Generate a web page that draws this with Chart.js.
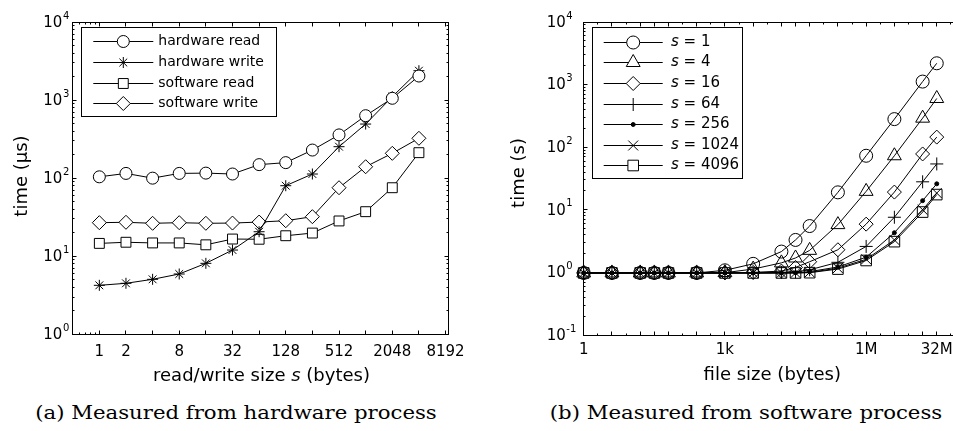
<!DOCTYPE html>
<html>
<head>
<meta charset="utf-8">
<script src="https://cdn.jsdelivr.net/npm/chart.js"></script>
<style>
  html, body { margin: 0; padding: 0; background: #fff; overflow: hidden; }
  #page { position: relative; width: 953px; height: 431px; overflow: hidden; background: #fff; }
  .panel { position: absolute; top: 0; }
  .cap { position: absolute; top: 403px; width: 476px; line-height: 20px; text-align: center;
         font-family: "DejaVu Serif", serif; font-size: 18px; color: #000; white-space: nowrap;
         transform: scaleX(1.18); transform-origin: center; }
</style>
</head>
<body>
<div id="page">
  <canvas id="chartA" class="panel" width="476" height="390" style="left:0"></canvas>
  <canvas id="chartB" class="panel" width="492" height="390" style="left:476px"></canvas>
  <div class="cap" style="left:-2px">(a) Measured from hardware process</div>
  <div class="cap" style="left:508px">(b) Measured from software process</div>
</div>
<script>
// (a) read/write size s in bytes
var rwSizes = [1, 2, 4, 8, 16, 32, 64, 128, 256, 512, 1024, 2048, 4096];
var rwTicks = [1, 2, 8, 32, 128, 512, 2048, 8192];
var hwRead = [104, 115, 100, 115, 116, 113, 149, 158, 229, 358, 631, 1054, 2032];
var hwWrite = [4.24, 4.5, 5.06, 5.92, 8.11, 12.0, 20.6, 80, 113, 253, 493, 1104, 2377];
var swRead = [14.6, 15.1, 14.8, 14.8, 14.0, 16.6, 16.5, 18.3, 19.8, 28.3, 37.2, 75.4, 212];
var swWrite = [26.9, 27.2, 26.4, 26.9, 26.4, 26.6, 27.4, 28.5, 32.1, 75.4, 140, 208, 324];

// (b) file size in bytes, one series per s
var fileSizes = [1, 4, 16, 32, 64, 256, 1024, 4096, 16384, 32768, 65536, 262144, 1048576, 4194304, 16777216, 33554432];
var fileTicks = [1, 1024, 1048576, 33554432];
var fileTickLabels = ['1', '1k', '1M', '32M'];
var s1 = [0.98, 0.98, 0.98, 0.98, 0.98, 0.98, 1.08, 1.37, 2.15, 3.3, 5.5, 19, 73, 281, 1117, 2190];
var s4 = [0.98, 0.98, 0.98, 0.98, 0.98, 0.98, 0.99, 1.13, 1.42, 1.7, 2.25, 5.8, 19.7, 73, 291, 600];
var s16 = [0.98, 0.98, 0.98, 0.98, 0.98, 0.98, 0.98, 1.0, 1.05, 1.2, 1.48, 2.3, 5.9, 19.2, 78, 145];
var s64 = [0.98, 0.98, 0.98, 0.98, 0.98, 0.98, 0.98, 0.98, 1.0, 1.02, 1.1, 1.45, 2.6, 7.6, 28, 54];
var s256 = [0.98, 0.98, 0.98, 0.98, 0.98, 0.98, 0.98, 0.98, 0.98, 0.99, 1.03, 1.22, 1.75, 4.3, 14, 26];
var s1024 = [0.98, 0.98, 0.98, 0.98, 0.98, 0.98, 0.98, 0.98, 0.98, 0.98, 1.0, 1.17, 1.62, 3.3, 10, 18.5];
var s4096 = [0.98, 0.98, 0.98, 0.98, 0.98, 0.98, 0.98, 0.98, 0.98, 0.98, 0.99, 1.13, 1.55, 3.1, 9.2, 17.5];

var SANS = "'DejaVu Sans', sans-serif";

function toPoints(xs, ys) {
    return xs.map(function (x, i) { return { x: x, y: ys[i] }; });
}

function makeSet(label, xs, ys, style, radius, fill) {
    return {
        label: label,
        data: toPoints(xs, ys),
        borderColor: '#000',
        borderWidth: 1,
        pointStyle: style,
        pointRadius: radius,
        pointHoverRadius: radius,
        pointBorderColor: '#000',
        pointBorderWidth: 1,
        pointBackgroundColor: fill,
        backgroundColor: fill,
        fill: false,
        tension: 0,
        clip: false
    };
}

// same geometry as chart.js point styles, used for the legend
function drawMarker(ctx, style, x, y, r, fill) {
    var c = Math.SQRT1_2;
    ctx.beginPath();
    if (style === 'circle') {
        ctx.arc(x, y, r, 0, Math.PI * 2);
    } else if (style === 'rect') {
        ctx.rect(x - r * c, y - r * c, 2 * r * c, 2 * r * c);
    } else if (style === 'rectRot') {
        ctx.moveTo(x - r, y); ctx.lineTo(x, y - r); ctx.lineTo(x + r, y); ctx.lineTo(x, y + r); ctx.closePath();
    } else if (style === 'triangle') {
        var a = 0;
        ctx.moveTo(x + Math.sin(a) * r, y - Math.cos(a) * r);
        a += Math.PI * 2 / 3;
        ctx.lineTo(x + Math.sin(a) * r, y - Math.cos(a) * r);
        a += Math.PI * 2 / 3;
        ctx.lineTo(x + Math.sin(a) * r, y - Math.cos(a) * r);
        ctx.closePath();
    }
    if (style === 'cross' || style === 'star') {
        ctx.moveTo(x, y - r); ctx.lineTo(x, y + r);
        ctx.moveTo(x - r, y); ctx.lineTo(x + r, y);
    }
    if (style === 'crossRot' || style === 'star') {
        ctx.moveTo(x - r * c, y - r * c); ctx.lineTo(x + r * c, y + r * c);
        ctx.moveTo(x - r * c, y + r * c); ctx.lineTo(x + r * c, y - r * c);
    }
    ctx.fillStyle = fill;
    ctx.fill();
    ctx.stroke();
}

function drawParts(ctx, parts, x, y, size, align) {
    var total = 0;
    parts.forEach(function (p) {
        ctx.font = (p.italic ? 'italic ' : '') + size + 'px ' + SANS;
        p.w = ctx.measureText(p.t).width;
        total += p.w;
    });
    var cx = align === 'center' ? x - total / 2 : x;
    ctx.textAlign = 'left';
    ctx.textBaseline = 'middle';
    parts.forEach(function (p) {
        ctx.font = (p.italic ? 'italic ' : '') + size + 'px ' + SANS;
        ctx.fillText(p.t, cx, y);
        cx += p.w;
    });
}

// matlab style box, inward ticks, 10^n labels, titles, legend
var framePlugin = {
    id: 'frame',
    afterDraw: function (chart, args, o) {
        var ctx = chart.ctx;
        var a = chart.chartArea;
        var xs = chart.scales.x;
        var ys = chart.scales.y;
        var L = Math.floor(a.left) + 0.5, R = Math.floor(a.right) + 0.5;
        var T = Math.floor(a.top) + 0.5, B = Math.floor(a.bottom) + 0.5;
        ctx.save();
        ctx.strokeStyle = '#000';
        ctx.fillStyle = '#000';
        ctx.lineWidth = 1;
        ctx.strokeRect(L, T, R - L, B - T);

        ctx.beginPath();
        function xTick(v, len) {
            var p = Math.floor(xs.getPixelForValue(v)) + 0.5;
            ctx.moveTo(p, B); ctx.lineTo(p, B - len);
            ctx.moveTo(p, T); ctx.lineTo(p, T + len);
        }
        function yTick(v, len) {
            var p = Math.floor(ys.getPixelForValue(v)) + 0.5;
            ctx.moveTo(L, p); ctx.lineTo(L + len, p);
            ctx.moveTo(R, p); ctx.lineTo(R - len, p);
        }
        o.xMajor.forEach(function (v) { xTick(v, 4); });
        o.xMinor.forEach(function (v) { xTick(v, 2); });
        for (var d = Math.round(Math.log10(ys.min)); d < Math.round(Math.log10(ys.max)); d++) {
            yTick(Math.pow(10, d), 4);
            for (var k = 2; k <= 9; k++) yTick(k * Math.pow(10, d), 2);
        }
        ctx.stroke();

        // y tick labels
        ys.ticks.forEach(function (t) {
            var p = ys.getPixelForValue(t.value);
            var e = Math.round(Math.log10(t.value));
            ctx.fillStyle = '#000';
            ctx.textAlign = 'left';
            ctx.textBaseline = 'middle';
            ctx.font = '15px ' + SANS;
            ctx.fillText('10', o.yLabelX, p + 1);
            var w = ctx.measureText('10').width;
            ctx.font = '10px ' + SANS;
            ctx.fillText(String(e), o.yLabelX + w + 0.5, p - 6);
        });

        // axis titles
        drawParts(ctx, o.xTitle.parts, o.xTitle.x, o.xTitle.y, 18, 'center');
        ctx.save();
        ctx.translate(o.yTitle.x, o.yTitle.y);
        ctx.rotate(-Math.PI / 2);
        drawParts(ctx, [{ t: o.yTitle.text }], 0, 0, 18, 'center');
        ctx.restore();

        // legend box
        var lg = o.legend;
        ctx.fillStyle = '#fff';
        ctx.fillRect(lg.x, lg.y, lg.w, lg.h);
        ctx.strokeRect(Math.floor(lg.x) + 0.5, Math.floor(lg.y) + 0.5, Math.round(lg.w), Math.round(lg.h));
        chart.data.datasets.forEach(function (ds, i) {
            var y = Math.floor(lg.rowY + i * lg.rowStep) + 0.5;
            ctx.beginPath();
            ctx.moveTo(lg.lineX0, y);
            ctx.lineTo(lg.lineX1, y);
            ctx.stroke();
            var fill = ds.pointBackgroundColor === '#000' ? '#000' : '#fff';
            drawMarker(ctx, ds.pointStyle, (lg.lineX0 + lg.lineX1) / 2, y, ds.pointRadius, fill);
            ctx.fillStyle = '#000';
            var parts = ds.label.indexOf('s = ') === 0
                ? [{ t: 's', italic: true }, { t: ds.label.slice(1) }]
                : [{ t: ds.label }];
            drawParts(ctx, parts, lg.textX, y, lg.size, 'left');
        });
        ctx.restore();
    }
};

function baseOptions(area, canvasW, frame) {
    return {
        responsive: false,
        animation: false,
        devicePixelRatio: 1,
        events: [],
        layout: { padding: { left: 0, top: area.top, right: canvasW - area.right, bottom: 0 } },
        plugins: { legend: { display: false }, tooltip: { enabled: false }, frame: frame }
    };
}

//chart (a)
var optA = baseOptions({ top: 22, right: 448.3 }, 476, {
    xMajor: [1, 2, 4, 8, 16, 32, 64, 128, 256, 512, 1024, 2048, 4096, 8192],
    xMinor: [0.6, 0.7, 0.8, 0.9],
    yLabelX: 43.3,
    xTitle: { parts: [{ t: 'read/write size ' }, { t: 's', italic: true }, { t: ' (bytes)' }], x: 261.5, y: 376 },
    yTitle: { text: 'time (μs)', x: 22, y: 176 },
    legend: { x: 81, y: 27.7, w: 195, h: 89, rowY: 41.7, rowStep: 20.75, lineX0: 93.3, lineX1: 153.3, textX: 158.3, size: 14 }
});
optA.scales = {
    x: {
        type: 'logarithmic', min: 0.5, max: 8800,
        afterBuildTicks: function (s) { s.ticks = rwTicks.map(function (v) { return { value: v }; }); },
        afterFit: function (s) { s.height = 390 - 334.3; },
        ticks: { autoSkip: false, maxRotation: 0, padding: 8.7, color: '#000', font: { family: SANS, size: 15 },
                 callback: function (v) { return String(v); } },
        grid: { display: false, drawTicks: false },
        border: { display: false }
    },
    y: {
        type: 'logarithmic', min: 1, max: 10000,
        afterBuildTicks: function (s) { s.ticks = [1, 10, 100, 1000, 10000].map(function (v) { return { value: v }; }); },
        afterFit: function (s) { s.width = 72.7; },
        ticks: { display: false },
        grid: { display: false, drawTicks: false },
        border: { display: false }
    }
};

new Chart(document.getElementById('chartA').getContext('2d'), {
    type: 'line',
    data: {
        datasets: [
            makeSet('hardware read', rwSizes, hwRead, 'circle', 6, '#fff'),
            makeSet('hardware write', rwSizes, hwWrite, 'star', 5.5, '#fff'),
            makeSet('software read', rwSizes, swRead, 'rect', 7, '#fff'),
            makeSet('software write', rwSizes, swWrite, 'rectRot', 7, '#fff')
        ]
    },
    options: optA,
    plugins: [framePlugin]
});

//chart (b)
var minorB = [];
for (var e = 0; e <= 26; e++) {
    if (fileSizes.indexOf(Math.pow(2, e)) < 0) minorB.push(Math.pow(2, e));
}
var optB = baseOptions({ top: 22, right: 485 }, 492, {
    xMajor: fileSizes,
    xMinor: minorB,
    yLabelX: 70.7,
    xTitle: { parts: [{ t: 'file size (bytes)' }], x: 296.3, y: 375 },
    yTitle: { text: 'time (s)', x: 43, y: 173 },
    legend: { x: 116.7, y: 27.7, w: 150, h: 150.6, rowY: 42.3, rowStep: 20.57, lineX0: 127.7, lineX1: 186.7, textX: 195, size: 15 }
});
optB.scales = {
    x: {
        type: 'logarithmic', min: 1, max: 1e8,
        afterBuildTicks: function (s) { s.ticks = fileTicks.map(function (v) { return { value: v }; }); },
        afterFit: function (s) { s.height = 390 - 335; },
        ticks: { autoSkip: false, maxRotation: 0, padding: 6.3, color: '#000', font: { family: SANS, size: 15 },
                 callback: function (v, i) { return fileTickLabels[i]; } },
        grid: { display: false, drawTicks: false },
        border: { display: false }
    },
    y: {
        type: 'logarithmic', min: 0.1, max: 10000,
        afterBuildTicks: function (s) { s.ticks = [0.1, 1, 10, 100, 1000, 10000].map(function (v) { return { value: v }; }); },
        afterFit: function (s) { s.width = 107.7; },
        ticks: { display: false },
        grid: { display: false, drawTicks: false },
        border: { display: false }
    }
};

var clear = 'rgba(0,0,0,0)';
new Chart(document.getElementById('chartB').getContext('2d'), {
    type: 'line',
    data: {
        datasets: [
            makeSet('s = 1', fileSizes, s1, 'circle', 6.5, clear),
            makeSet('s = 4', fileSizes, s4, 'triangle', 8, clear),
            makeSet('s = 16', fileSizes, s16, 'rectRot', 7, clear),
            makeSet('s = 64', fileSizes, s64, 'cross', 6.5, clear),
            makeSet('s = 256', fileSizes, s256, 'circle', 2, '#000'),
            makeSet('s = 1024', fileSizes, s1024, 'crossRot', 7, clear),
            makeSet('s = 4096', fileSizes, s4096, 'rect', 7.5, clear)
        ]
    },
    options: optB,
    plugins: [framePlugin]
});
</script>
</body>
</html>
